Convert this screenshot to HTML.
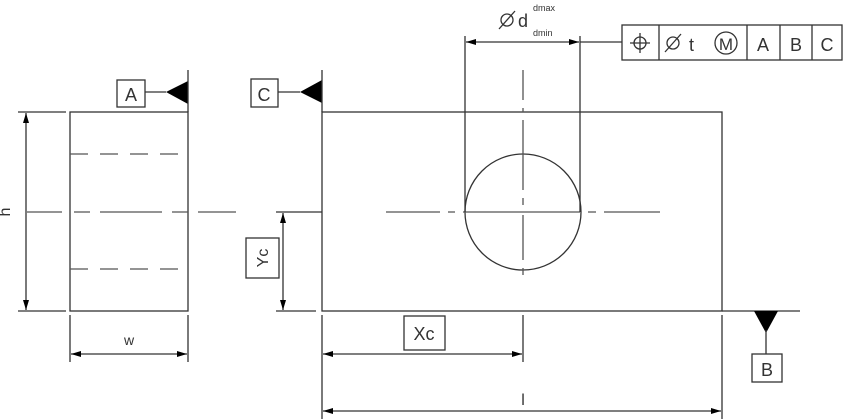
<!DOCTYPE html>
<html><head><style>html,body{margin:0;padding:0;background:#fff}svg{display:block}</style></head><body>
<svg width="850" height="419" viewBox="0 0 850 419" xmlns="http://www.w3.org/2000/svg" font-family="Liberation Sans, sans-serif" fill="none" stroke="#333" stroke-width="1.3">
<defs>
<marker id="ar" viewBox="0 0 10 6" refX="10" refY="3" markerWidth="15" markerHeight="6" orient="auto-start-reverse" markerUnits="userSpaceOnUse"><path d="M0,0L10,3L0,6z" fill="#000" stroke="none"/></marker>
</defs>
<!-- left view -->
<rect x="70" y="112" width="118" height="199"/>
<path d="M70,154H188M70,269H188" stroke-dasharray="18,12" stroke="#555"/>
<path d="M27,212H62M74,212H90M100,212H162M172,212H188M198,212H236" stroke="#555"/>
<path d="M18,112H66M18,311H66"/>
<line x1="26" y1="113" x2="26" y2="310" marker-start="url(#ar)" marker-end="url(#ar)"/>
<text x="12" y="212" font-size="16" fill="#333" stroke="none" text-anchor="middle" transform="rotate(-90 12 212)" dy="-2">h</text>
<path d="M70,315V362M188,315V362"/>
<line x1="71" y1="354" x2="187" y2="354" marker-start="url(#ar)" marker-end="url(#ar)"/>
<text x="129" y="345" font-size="14" fill="#333" stroke="none" text-anchor="middle">w</text>
<!-- A datum -->
<rect x="117" y="80" width="28" height="27"/>
<text x="131" y="101" font-size="18" fill="#333" stroke="none" text-anchor="middle">A</text>
<line x1="145" y1="92" x2="166" y2="92"/>
<path d="M166,92L188,81V104z" fill="#000" stroke="none"/>
<line x1="188" y1="70" x2="188" y2="112"/>
<!-- C datum -->
<rect x="251" y="79" width="27" height="28"/>
<text x="264" y="101" font-size="18" fill="#333" stroke="none" text-anchor="middle">C</text>
<line x1="278" y1="92" x2="300" y2="92"/>
<path d="M300,92L322,80V103z" fill="#000" stroke="none"/>
<line x1="322" y1="70" x2="322" y2="112"/>
<!-- main view -->
<rect x="322" y="112" width="400" height="199"/>
<circle cx="523" cy="212" r="58"/>
<path d="M523,70V100M523,108V112M523,120V190M523,198V205M523,215V260M523,268V275" stroke="#555"/>
<path d="M386,212H440M448,212H455M463,212H580M588,212H596M604,212H660" stroke="#555"/>
<line x1="722" y1="311" x2="800" y2="311"/>
<!-- Yc -->
<path d="M276,212H322M276,311H316"/>
<line x1="283" y1="213" x2="283" y2="310" marker-start="url(#ar)" marker-end="url(#ar)"/>
<rect x="246" y="238" width="33" height="40"/>
<text x="262" y="258" font-size="16" fill="#333" stroke="none" text-anchor="middle" transform="rotate(-90 262 258)" dy="6">Yc</text>
<!-- Xc -->
<path d="M322,315V419M523,315V362M722,315V419"/>
<line x1="323" y1="354" x2="522" y2="354" marker-start="url(#ar)" marker-end="url(#ar)"/>
<rect x="404" y="316" width="41" height="34"/>
<text x="424" y="340" font-size="18" fill="#333" stroke="none" text-anchor="middle">Xc</text>
<line x1="323" y1="411" x2="721" y2="411" marker-start="url(#ar)" marker-end="url(#ar)"/>
<text x="523" y="405" font-size="16" fill="#333" stroke="none" text-anchor="middle">l</text>
<!-- B datum -->
<path d="M754,311L778,311L766,333z" fill="#000" stroke="none"/>
<line x1="766" y1="330" x2="766" y2="354"/>
<rect x="752" y="354" width="30" height="28"/>
<text x="767" y="376" font-size="18" fill="#333" stroke="none" text-anchor="middle">B</text>
<!-- diameter -->
<path d="M465,36V212M580,36V212"/>
<line x1="466" y1="42" x2="579" y2="42" marker-start="url(#ar)" marker-end="url(#ar)"/>
<line x1="580" y1="42" x2="622" y2="42"/>
<circle cx="507" cy="20" r="6"/><line x1="499" y1="29" x2="515" y2="11"/>
<text x="518" y="27" font-size="18" fill="#333" stroke="none">d</text>
<text x="533" y="11" font-size="9" fill="#333" stroke="none">dmax</text>
<text x="533" y="36" font-size="9" fill="#333" stroke="none">dmin</text>
<!-- feature frame -->
<rect x="622" y="25" width="220" height="35"/>
<path d="M659,25V60M747,25V60M780,25V60M812,25V60"/>
<circle cx="640" cy="43" r="6"/><path d="M630,43H650M640,33V53"/>
<circle cx="673" cy="43" r="6"/><line x1="665" y1="52" x2="681" y2="34"/>
<text x="689" y="51" font-size="18" fill="#333" stroke="none">t</text>
<circle cx="726" cy="43" r="11"/>
<text x="726" y="50" font-size="17" fill="#333" stroke="none" text-anchor="middle">M</text>
<text x="763" y="51" font-size="18" fill="#333" stroke="none" text-anchor="middle">A</text>
<text x="796" y="51" font-size="18" fill="#333" stroke="none" text-anchor="middle">B</text>
<text x="827" y="51" font-size="18" fill="#333" stroke="none" text-anchor="middle">C</text>
</svg>
</body></html>
